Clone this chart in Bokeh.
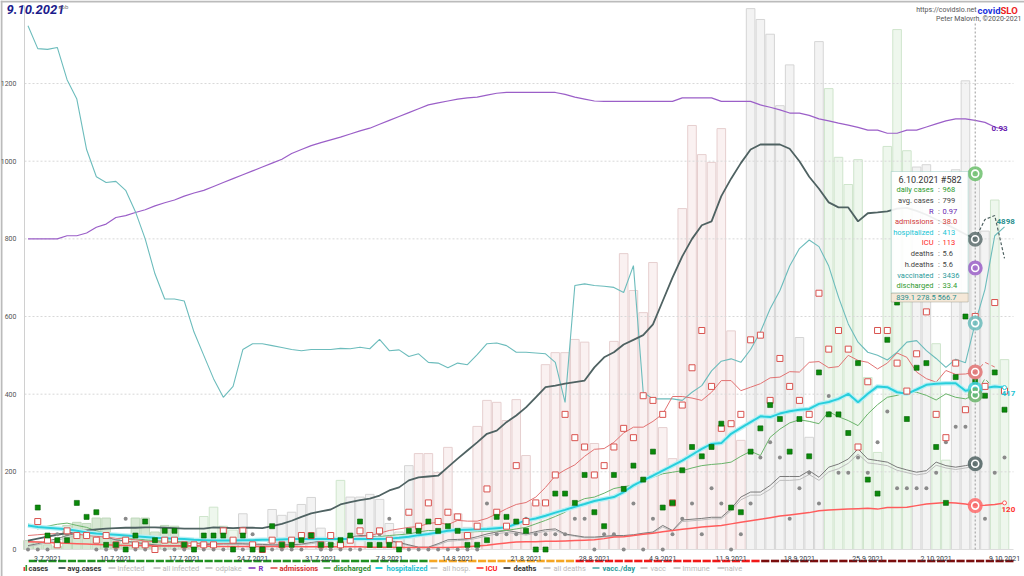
import pandas as pd
from bokeh.plotting import figure
from bokeh.models import Range1d, FixedTicker, ColumnDataSource, Label, BoxAnnotation
from bokeh.core.properties import value
from bokeh.embed import file_html
from bokeh.resources import INLINE

FONT = "Roboto"

# ---------------- data ----------------
dates = [d.strftime("%-d.%-m.%Y") for d in pd.date_range("2021-07-01", "2021-10-09")]
tick_labels = ["3.7.2021", "10.7.2021", "17.7.2021", "24.7.2021", "31.7.2021", "7.8.2021",
               "14.8.2021", "21.8.2021", "28.8.2021", "4.9.2021", "11.9.2021", "18.9.2021",
               "25.9.2021", "2.10.2021", "9.10.2021"]
y_ticks = [0, 200, 400, 600, 800, 1000, 1200]

cases = [23, 20, 12, 8, 62, 70, 67, 81, 81, 25,
         15, 81, 81, 45, 62, 60, 15, 10, 85, 109,
         60, 50, 92, 20, 15, 103, 88, 96, 116, 134,
         55, 15, 178, 135, 135, 142, 129, 67, 45, 216,
         247, 247, 198, 263, 92, 57, 317, 384, 379, 332,
         386, 242, 120, 476, 507, 507, 541, 534, 273, 130,
         536, 762, 667, 610, 739, 314, 234, 878, 1092, 1017,
         997, 1084, 563, 281, 1393, 1365, 1327, 1143, 1248, 546,
         289, 1308, 1187, 1010, 940, 1004, 443, 250, 1038, 1339,
         1027, 985, 991, 530, 230, 978, 1207, 968, 820, 900,
         489]
# bar tint: G strong green, g light green, n neutral grey, r pink
cases_tint = list("GGGGGGGGGGGGGGGGGG" "gggg" "nnnnnnnnnn" "g" "nnnnnnn"
                  "rrrrrrrrrrrrrrrrrrrrrrrrrrrrrrrrrr" "nnnnnnnn" "ggggggggg"
                  "nn" "gg" "nnnn" "gg")
# colour of the daily measures band
band_tier = list("g" * 41 + "o" * 15 + "r" * 19 + "d" * 26)

avg_cases = [23, 28, 33, 38, 42, 46, 49, 52, 54, 55,
             56, 56, 57, 57, 56, 55, 54, 54, 54, 57,
             56, 55, 56, 56, 55, 60, 66, 74, 84, 93,
             98, 103, 116, 122, 127, 131, 139, 152, 160, 178,
             186, 188, 190, 212, 234, 255, 276, 298, 306, 328,
             345, 366, 392, 418, 422, 427, 431, 435, 469, 495,
             508, 528, 540, 552, 580, 640, 700, 755, 800, 835,
             845, 910, 955, 995, 1030, 1043, 1043, 1043, 1032, 1000,
             960, 929, 894, 881, 881, 845, 866, 868, 871, 878,
             880, 872, 862, 850, 838, 825, 812, 799]
avg_cases_proj = [799, 850, 860, 750]

r_line = [800, 800, 800, 800, 808, 808, 815, 830, 838, 855,
          860, 868, 875, 885, 893, 900, 910, 918, 925, 935,
          945, 955, 965, 975, 985, 995, 1005, 1020, 1030, 1040,
          1048, 1055, 1062, 1070, 1078, 1085, 1095, 1105, 1115, 1125,
          1135, 1145, 1150, 1155, 1160, 1163, 1165, 1170, 1175, 1177,
          1177, 1177, 1177, 1177, 1177, 1172, 1165, 1160, 1155, 1154,
          1154, 1154, 1154, 1154, 1154, 1154, 1154, 1163, 1163, 1163,
          1163, 1154, 1154, 1154, 1154, 1145, 1139, 1132, 1124, 1124,
          1118, 1109, 1104, 1098, 1093, 1087, 1080, 1080, 1072, 1072,
          1080, 1080, 1088, 1096, 1104, 1109, 1109, 1105, 1100, 1088,
          1081]
r_marker = 725

vacc_day = [1349, 1290, 1288, 1293, 1210, 1160, 1030, 960, 945, 948,
            925, 870, 800, 710, 645, 645, 640, 560, 500, 440,
            392, 420, 515, 530, 530, 525, 520, 515, 512, 515,
            515, 515, 518, 517, 521, 517, 541, 512, 514, 497,
            504, 482, 480, 468, 480, 476, 502, 530, 532, 525,
            508, 508, 506, 504, 482, 379, 680, 684, 680, 678,
            675, 662, 731, 405, 388, 388, 388, 384, 405, 422,
            460, 485, 491, 482, 515, 560, 620, 667, 730, 775,
            797, 780, 730, 650, 581, 534, 508, 500, 488, 508,
            534, 538, 512, 492, 469, 490, 481, 583, 670, 808,
            831]

hospitalized = [62, 58, 56, 54, 52, 48, 44, 41, 39, 38,
                36, 34, 32, 30, 29, 28, 27, 25, 24, 23,
                23, 23, 24, 24, 25, 25, 26, 27, 27, 27,
                27, 27, 27, 27, 27, 27, 27, 28, 30, 33,
                37, 40, 44, 48, 50, 51, 52, 53, 55, 57,
                66, 75, 80, 87, 95, 102, 110, 117, 125, 130,
                135, 148, 165, 178, 190, 203, 216, 229, 244, 259,
                272, 274, 298, 313, 328, 343, 341, 350, 356, 360,
                362, 375, 380, 388, 401, 379, 401, 420, 418, 405,
                401, 412, 424, 427, 428, 428, 409, 413, 416, 420,
                417]

icu = [20, 19, 18, 17, 16, 15, 14, 13, 12, 11,
       10, 10, 10, 9, 9, 9, 9, 9, 9, 8,
       8, 8, 8, 8, 8, 8, 8, 8, 7, 7,
       7, 7, 7, 7, 7, 6, 6, 6, 5, 5,
       5, 5, 5, 5, 6, 7, 9, 11, 14, 17,
       19, 20, 20, 21, 21, 22, 23, 24, 25, 28,
       32, 33, 36, 39, 42, 46, 49, 52, 55, 58,
       60, 62, 66, 70, 74, 78, 82, 86, 89, 92,
       95, 100, 102, 103, 104, 105, 106, 104, 108, 108,
       109, 113, 117, 119, 121, 120, 117, 113, 114, 116,
       120]

admissions_avg = [36, 38, 40, 41, 42, 40, 36, 34, 32, 29,
                  27, 25, 22, 20, 19, 18, 17, 16, 15, 15,
                  16, 17, 19, 20, 22, 23, 24, 26, 28, 28,
                  28, 30, 30, 30, 33, 36, 42, 49, 53, 57,
                  59, 67, 70, 64, 75, 73, 73, 80, 92, 105,
                  116, 121, 135, 160, 190, 205, 218, 240, 258, 260,
                  276, 300, 315, 315, 330, 349, 394, 394, 390, 384,
                  405, 435, 435, 409, 418, 427, 442, 444, 458, 457,
                  482, 484, 468, 471, 500, 487, 482, 465, 480, 506,
                  495, 457, 440, 431, 461, 451, 452, 457]
admissions_proj = [457, 482, 470]

discharged_avg = [66, 53, 60, 65, 68, 62, 57, 48, 42, 34,
                  30, 28, 25, 23, 22, 21, 20, 20, 19, 19,
                  19, 20, 21, 22, 23, 23, 23, 23, 23, 23,
                  24, 27, 28, 29, 30, 30, 33, 36, 38, 40,
                  45, 49, 48, 47, 46, 45, 46, 47, 48, 49,
                  53, 57, 66, 75, 85, 96, 120, 131, 135, 145,
                  157, 162, 165, 178, 186, 195, 199, 203, 210, 216,
                  219, 221, 225, 240, 253, 242, 289, 310, 326, 334,
                  330, 324, 355, 342, 332, 319, 349, 373, 392, 397,
                  405, 405, 397, 385, 401, 392, 388, 398]
discharged_proj = [398, 440, 412]

deaths_avg = [10, 15, 22, 28, 36, 42, 45, 40, 32, 25,
              22, 18, 15, 12, 10, 10, 10, 10, 12, 14,
              15, 15, 15, 14, 13, 12, 12, 12, 14, 18,
              22, 25, 28, 32, 36, 36, 30, 23, 18, 12,
              6, 6, 15, 25, 26, 27, 33, 40, 45, 49,
              45, 40, 46, 51, 53, 40, 36, 32, 32, 34,
              36, 36, 38, 42, 45, 62, 49, 76, 78, 80,
              83, 83, 105, 135, 148, 148, 165, 188, 188, 188,
              203, 186, 212, 220, 233, 259, 233, 229, 225, 212,
              205, 199, 203, 225, 216, 212, 216, 221]
all_deaths_avg = [8, 12, 18, 24, 30, 36, 40, 36, 30, 24,
                  20, 16, 13, 11, 9, 9, 9, 9, 10, 12,
                  13, 13, 13, 12, 11, 11, 11, 11, 12, 15,
                  19, 22, 25, 29, 32, 32, 27, 21, 16, 10,
                  5, 5, 12, 21, 23, 24, 29, 35, 40, 44,
                  41, 37, 42, 47, 49, 38, 34, 30, 30, 32,
                  34, 34, 36, 40, 43, 58, 47, 72, 74, 76,
                  79, 79, 100, 128, 140, 140, 155, 178, 178, 180,
                  193, 178, 200, 208, 222, 246, 223, 220, 216, 204,
                  198, 192, 196, 217, 210, 206, 210, 214]

# daily counts (markers)
discharged_daily = [None, 9, 3, 2, 2, 10, 7, 8, 1, 1,
                    0, 3, 6, 2, 4, 4, 1, 0, 3, 3,
                    3, 0, 3, 0, 0, 5, 1, 1, 2, 3,
                    1, 1, 2, 3, 6, 1, 1, 1, 0, 4,
                    4, 6, 4, 5, 4, 1, 1, 2, 7, 7,
                    6, 4, 0, 0, 12, 12, 10, 16, 8, 5,
                    16, 13, 18, 15, 21, 9, 10, 17, 22, 20,
                    22, 27, 9, 8, 21, 26, 31, 28, 21, 28,
                    20, 38, 29, 29, 25, 40, 15, 12, 45, 53,
                    28, 39, 40, 22, 10, 37, 50, 36, 33, 38,
                    30]
admissions_daily = [None, 6, 2, 1, 4, 3, 3, 2, 3, 1,
                    2, 1, 1, 0, 2, 2, 1, 1, 1, 1,
                    4, 2, 4, 1, 0, 2, 1, 2, 3, 3,
                    1, 3, 1, 2, 4, 3, 4, 2, 1, 8,
                    5, 10, 6, 8, 7, 3, 5, 13, 8, 5,
                    18, 6, 10, 10, 16, 29, 24, 22, 16, 18,
                    22, 26, 24, 33, 32, 29, 10, 31, 39, 47,
                    35, 26, 27, 29, 45, 46, 32, 41, 35, 32,
                    29, 55, 43, 47, 43, 22, 36, 47, 47, 40,
                    34, 42, 51, 29, 24, 40, 30, 50, 35, 53,
                    34]
deaths_daily = [0, 0, 0, 1, 1, 1, 1, 0, 0, 0,
                2, 0, 0, 0, 0, 0, 0, 0, 0, 0,
                0, 0, 0, 1, 0, 0, 0, 0, 0, 1,
                0, 0, 0, 0, 0, 1, 1, 2, 0, 0,
                0, 0, 0, 0, 0, 0, 0, 3, 1, 1,
                1, 2, 1, 1, 1, 1, 2, 2, 0, 1,
                1, 0, 3, 0, 2, 0, 1, 2, 3, 1,
                4, 3, 0, 1, 3, 6, 7, 6, 2, 4,
                5, 3, 10, 5, 5, 6, 5, 7, 9, 4,
                4, 4, 4, 5, 7, 8, 8, 3, 2, 5,
                6]
DAILY_SCALE = 12.0      # admissions / discharged drawn x12
DEATH_SCALE = 39.5      # deaths drawn x39.5

hover_date = "6.10.2021"
tooltip_rows = [("daily cases", "968", "#2e9a2e"), ("avg. cases", "799", "#444444"),
                ("R", "0.97", "#6a1fb0"), ("admissions", "38.0", "#d03a3a"),
                ("hospitalized", "413", "#18c4d4"), ("ICU", "113", "#ff2020"),
                ("deaths", "5.6", "#444444"), ("h.deaths", "5.6", "#444444"),
                ("vaccinated", "3436", "#2a9a9a"), ("discharged", "33.4", "#2e9a2e")]
tooltip_footer = "839.1   278.5   566.7"

# ---------------- layout helpers (canvas pixels -> data units) ----------------
X0_PX, PX_PER_DAY = 27.5, 9.765
Y0_PX, PX_PER_UNIT = 549.0, 0.3883
W, H = 1024, 576


def xd(px):
    return (px - X0_PX) / PX_PER_DAY


def yv(py):
    return (Y0_PX - py) / PX_PER_UNIT


n = len(dates)
xs = list(range(n))
hi = dates.index(hover_date)
tick_pos = [dates.index(t) for t in tick_labels]

p = figure(width=W, height=H, title=None,
           x_range=Range1d(xd(0), xd(W)), y_range=Range1d(yv(H), yv(0)),
           output_backend="svg", toolbar_location=None, min_border=0,
           outline_line_color=None, background_fill_color="white")
p.xgrid.visible = False
p.ygrid.visible = False

xa = p.xaxis[0]
xa.fixed_location = 0
xa.ticker = FixedTicker(ticks=tick_pos)
xa.major_label_overrides = {t: l for t, l in zip(tick_pos, tick_labels)}
xa.axis_line_color = None
xa.major_tick_line_color = None
xa.minor_tick_line_color = None
xa.major_label_standoff = 0
xa.major_label_text_font_size = "7px"
xa.major_label_text_color = "#2f3d48"
xa.major_label_text_font = FONT

ya = p.yaxis[0]
ya.fixed_location = xd(24)
ya.ticker = FixedTicker(ticks=y_ticks)
ya.axis_line_color = None
ya.major_tick_line_color = None
ya.minor_tick_line_color = None
ya.major_label_standoff = 2
ya.major_label_text_font_size = "7px"
ya.major_label_text_color = "#555555"
ya.major_label_text_font = FONT

# page frame lines (left / top border of the original widget)
p.segment(x0=[xd(1)], x1=[xd(1)], y0=[yv(H)], y1=[yv(0)], line_color="#bbbbbb", line_width=2)
p.segment(x0=[xd(0)], x1=[xd(W)], y0=[yv(1)], y1=[yv(1)], line_color="#bbbbbb", line_width=2)

# bars
fills = {"G": "#d7e8d4", "g": "#eef7ed", "n": "#f3f3f3", "r": "#faf1f1"}
lines = {"G": "#bed8ba", "g": "#cfe5cc", "n": "#d5d5d5", "r": "#e6cfcf"}
bar_src = ColumnDataSource(dict(x=xs, top=cases,
                                fill=[fills[t] for t in cases_tint],
                                line=[lines[t] for t in cases_tint]))
p.vbar(x="x", top="top", bottom=0, width=0.88, fill_color="fill", line_color="line",
       line_width=1, source=bar_src)

# grid and axis lines
xr1 = xd(1013)
p.segment(x0=[xd(24)] * 6, x1=[xr1] * 6, y0=y_ticks[1:], y1=y_ticks[1:],
          line_color="#d8d8d8", line_dash="2 2", line_width=1)
p.segment(x0=[xd(24)], x1=[xr1], y0=[0], y1=[0], line_color="#dddddd", line_width=1)
p.segment(x0=[xd(24)], x1=[xd(24)], y0=[0], y1=[yv(5)], line_color="#d0d0d0",
          line_width=1)

# measures band
tier_col = {"g": "#1f8f1f", "o": "#f5a623", "r": "#f01818", "d": "#7a0c0c"}
p.vbar(x=[x + 0.5 for x in xs], top=yv(559.2), bottom=yv(561.8), width=0.84,
       fill_color=[tier_col[t] for t in band_tier], line_color=None)

# lines
xa98 = xs[:len(avg_cases)]
p.line(xs, r_line, line_color="#9b5fc8", line_width=1.2)
p.line(xs, vacc_day, line_color="#6cbcbc", line_width=1.1)
p.line(xa98, all_deaths_avg, line_color="#bdbdbd", line_width=1)
p.line(xa98, deaths_avg, line_color="#7a7a7a", line_width=1)
p.line(xs, icu, line_color="#ff5c5c", line_width=1.5)
p.line(xa98, admissions_avg, line_color="#e27272", line_width=1)
p.line(xa98, discharged_avg, line_color="#6ab46a", line_width=1)
p.line(xa98, avg_cases, line_color="#4f6262", line_width=1.8)
p.line(xs[hi:hi + len(avg_cases_proj)], avg_cases_proj, line_color="#4f6262",
       line_width=1.2, line_dash="3 2")
p.line(xs[hi:hi + len(admissions_proj)], admissions_proj, line_color="#e27272",
       line_width=1, line_dash="4 3")
p.line(xs[hi:hi + len(discharged_proj)], discharged_proj, line_color="#6ab46a",
       line_width=1, line_dash="4 3")
p.line(xs, hospitalized, line_color="#b8f0f4", line_width=4.5)
p.line(xs, hospitalized, line_color="#28cfdc", line_width=2)

# markers
nan = float("nan")
p.scatter(xs, [d * DEATH_SCALE for d in deaths_daily], size=4, marker="circle",
          fill_color="#8a8a8a", line_color=None)
p.scatter(xs, [nan if v is None else v * DAILY_SCALE for v in admissions_daily], size=6,
          marker="square", fill_color="white", line_color="#d9534f", line_width=1)
p.scatter(xs, [nan if v is None else v * DAILY_SCALE for v in discharged_daily], size=5,
          marker="square", fill_color="#0a8a0a", line_color="#056005", line_width=0.6)

# end-of-line markers
p.scatter([xs[-1]] * 2, [hospitalized[-1], icu[-1]], size=4, marker="circle",
          fill_color="white", line_color=["#28cfdc", "#ff5c5c"], line_width=1)

# hover crosshair
p.segment(x0=[hi], x1=[hi], y0=[0], y1=[yv(22)], line_color="#9a9a9a", line_dash="2 2",
          line_width=1)
hv = [cases[hi], avg_cases[hi], r_marker, vacc_day[hi], admissions_avg[hi],
      hospitalized[hi], discharged_avg[hi], deaths_avg[hi], icu[hi]]
hc = ["#6cbf6c", "#5e6e6e", "#9b5fc8", "#6cbcbc", "#e27272", "#40d4e0", "#6ab46a",
      "#4f6262", "#ff6a6a"]
p.scatter([hi] * len(hv), hv, size=15, marker="circle", fill_color=hc, fill_alpha=0.85,
          line_color=None)
p.scatter([hi] * len(hv), hv, size=7, marker="circle", fill_color=None,
          line_color="white", line_width=1.6)

# end labels
end_src = ColumnDataSource(dict(
    x=[xd(991), xd(996), xd(1001), xd(1001)],
    y=[yv(128), yv(221), yv(393), yv(509)],
    t=["0.93", "4898", "417", "120"],
    c=["#6a1fb0", "#2a8f8f", "#18c4d4", "#ff3030"]))
p.text(x="x", y="y", text="t", text_color="c", source=end_src, text_font=value(FONT),
       text_font_size="8px", text_font_style="bold", text_baseline="middle",
       text_align="left")

# legend (drawn manually, colours per item)
legend_items = [
    # label, line colour, text colour, line start px, text start px, active
    ("cases", None, "#333333", 23, 28, True),
    ("avg.cases", "#4f6262", "#333333", 58, 67, True),
    ("infected", "#cccccc", "#b8b8b8", 108, 117, False),
    ("all infected", "#cccccc", "#b8b8b8", 153, 162, False),
    ("odplake", "#cccccc", "#b8b8b8", 205, 215, False),
    ("R", "#9b5fc8", "#7b2fbf", 248, 258, True),
    ("admissions", "#e27272", "#d32f2f", 270, 279, True),
    ("discharged", "#6ab46a", "#2e8b2e", 323, 333, True),
    ("hospitalized", "#28cfdc", "#20c0d0", 375, 386, True),
    ("all hosp.", "#cccccc", "#b8b8b8", 430, 442, False),
    ("ICU", "#ff5c5c", "#ff2020", 476, 485, True),
    ("deaths", "#555555", "#333333", 503, 513, True),
    ("all deaths", "#cccccc", "#b8b8b8", 543, 553, False),
    ("vacc./day", "#6cbcbc", "#2a9a9a", 592, 602, True),
    ("vacc", "#cccccc", "#b8b8b8", 640, 650, False),
    ("immune", "#cccccc", "#b8b8b8", 673, 682, False),
    ("naive", "#cccccc", "#b8b8b8", 717, 724, False),
]
LEG_Y = yv(567.5)
seg = [it for it in legend_items if it[1] is not None]
p.segment(x0=[xd(it[3]) for it in seg], x1=[xd(it[3] + 7) for it in seg],
          y0=[LEG_Y] * len(seg), y1=[LEG_Y] * len(seg),
          line_color=[it[1] for it in seg], line_width=2)
p.quad(left=[xd(23), xd(25)], right=[xd(24.6), xd(26.6)],
       bottom=[yv(570.5), yv(570.5)], top=[yv(566.5), yv(564.5)],
       fill_color=["#e53935", "#2e9a2e"], line_color=None)
leg_src = ColumnDataSource(dict(
    x=[xd(it[4]) for it in legend_items], y=[LEG_Y] * len(legend_items),
    t=[it[0] for it in legend_items], c=[it[2] for it in legend_items],
    s=["bold" if it[5] else "normal" for it in legend_items]))
p.text(x="x", y="y", text="t", text_color="c", text_font_style="s", source=leg_src,
       text_font=value(FONT), text_font_size="7.5px", text_baseline="middle",
       text_align="left")

# tooltip
p.add_layout(BoxAnnotation(left=xd(890.7), right=xd(967.7), top=yv(171), bottom=yv(292.7),
                           fill_color="white", fill_alpha=0.9, line_color="#5aa89a",
                           line_width=1.2, level="overlay"))
p.add_layout(BoxAnnotation(left=xd(890.7), right=xd(967.7), top=yv(292.7),
                           bottom=yv(301.5), fill_color="#f5e8d8", fill_alpha=1,
                           line_color="#6a6a5a", line_width=1, level="overlay"))


def lab(x, y, text, color, align="left", size="7.5px", style="normal"):
    p.add_layout(Label(x=x, y=y, text=text, text_color=color, text_align=align,
                       text_baseline="middle", text_font=FONT, text_font_size=size,
                       text_font_style=style, level="overlay"))


lab(xd(929.5), yv(179), hover_date + " #582", "#333333", "center", "9px")
row_y = [189.3, 200, 210.7, 221.3, 231.7, 242.3, 253.3, 264, 274.7, 285.3]
for (name, val, col), ry in zip(tooltip_rows, row_y):
    lab(xd(933), yv(ry), name, col, "right")
    lab(xd(938.5), yv(ry), ":", "#555555", "center")
    lab(xd(942), yv(ry), val, col, "left")
lab(xd(929.5), yv(297), tooltip_footer, "#2a8f8f", "center")

# title / credits
lab(xd(6), yv(9), "9.10.2021", "#1c1c8c", "left", "13px", "bold italic")
lab(xd(58), yv(6), "sob", "#777777", "left", "6px")
lab(xd(976), yv(9.5), "https://covidslo.net", "#555555", "right", "7px")
lab(xd(1000), yv(9.5), "covid", "#2233dd", "right", "9.5px", "bold")
lab(xd(1000), yv(9.5), "SLO", "#ee2222", "left", "9.5px", "bold")
lab(xd(1021), yv(18), "Peter Malovrh, ©2020-2021", "#555555", "right", "7px")

open("out.html", "w").write(file_html(p, INLINE))
